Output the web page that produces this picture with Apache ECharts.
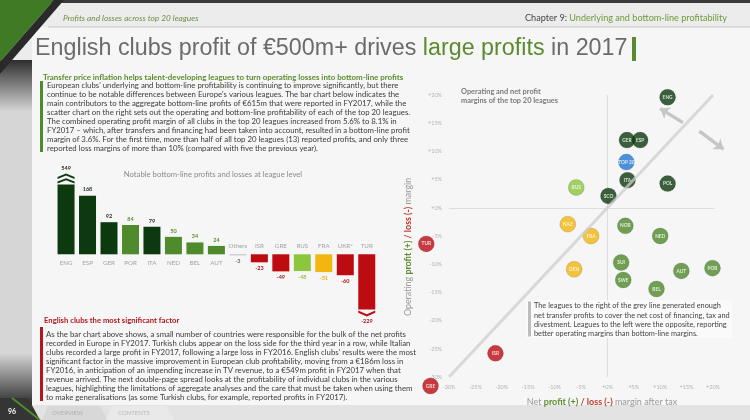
<!DOCTYPE html>
<html><head><meta charset="utf-8">
<script src="https://cdn.jsdelivr.net/npm/echarts@6/dist/echarts.min.js"></script>
<style>html,body{margin:0;padding:0;background:#eeeeee}#c{width:750px;height:420px}</style>
</head><body><div id="c"></div>
<script>
// ---------- DATA ----------
const barCategories = ['ENG','ESP','GER','POR','ITA','NED','BEL','AUT','Others','ISR','GRE','RUS','FRA','UKR*','TUR'];
const barValues = [549,168,92,84,79,50,34,24,-3,-23,-49,-48,-51,-60,-229];
const barGroups = ['dark','dark','dark','mid','dark','mid','mid','mid','other','red','red','light','yellow','red','red'];
const barCap = [200, -158]; // broken-axis display limits (bars beyond are drawn truncated with chevrons)

const leagueCodes = ['ENG','GER','ESP','TOP 20','ITA','POL','RUS','SCO','KAZ','NOR','FRA','NED','TUR','SUI','DEN','AUT','POR','SWE','BEL','ISR','GRE'];
const netMargin = [11.4,3.7,6.2,3.6,3.8,11.4,-5.9,0.2,-7.5,3.4,-3.1,10.0,-34.3,2.6,-6.3,14.0,19.9,3.0,9.3,-21.2,-33.5];
const opMargin  = [19.6,12.0,12.0,8.1,4.9,4.3,3.6,2.1,-2.9,-3.2,-5.0,-5.0,-6.4,-9.7,-10.9,-11.2,-10.7,-12.8,-14.4,-25.8,-31.6];
const leagueGroups = ['dark','dark','dark','blue','dark','dark','light','dark','yellow','mid','yellow','mid','red','mid','yellow','mid','mid','mid','mid','red','red'];
const marginTicks = [-30,-25,-20,-15,-10,-5,0,5,10,15,20];
const arrowLines = [[[14.3,15.1],[10.0,17.6]],[[17.4,13.6],[22.0,10.4]]];

const titleParts = ['English clubs profit of €500m+ drives ','large profits',' in 2017'];
const headerLeft = 'Profits and losses across top 20 leagues';
const headerRight = ['Chapter 9: ','Underlying and bottom-line profitability'];
const sub1 = 'Transfer price inflation helps talent-developing leagues to turn operating losses into bottom-line profits';
const para1 = [
 "European clubs' underlying and bottom-line profitability is continuing to improve significantly, but there",
 "continue to be notable differences between Europe's various leagues. The bar chart below indicates the",
 "main contributors to the aggregate bottom-line profits of €615m that were reported in FY2017, while the",
 "scatter chart on the right sets out the operating and bottom-line profitability of each of the top 20 leagues.",
 "The combined operating profit margin of all clubs in the top 20 leagues increased from 5.6% to 8.1% in",
 "FY2017 – which, after transfers and financing had been taken into account, resulted in a bottom-line profit",
 "margin of 3.6%. For the first time, more than half of all top 20 leagues (13) reported profits, and only three",
 "reported loss margins of more than 10% (compared with five the previous year)."];
const sub2 = 'English clubs the most significant factor';
const para2 = [
 "As the bar chart above shows, a small number of countries were responsible for the bulk of the net profits",
 "recorded in Europe in FY2017. Turkish clubs appear on the loss side for the third year in a row, while Italian",
 "clubs recorded a large profit in FY2017, following a large loss in FY2016. English clubs' results were the most",
 "significant factor in the massive improvement in European club profitability, moving from a €186m loss in",
 "FY2016, in anticipation of an impending increase in TV revenue, to a €549m profit in FY2017 when that",
 "revenue arrived. The next double-page spread looks at the profitability of individual clubs in the various",
 "leagues, highlighting the limitations of aggregate analyses and the care that must be taken when using them",
 "to make generalisations (as some Turkish clubs, for example, reported profits in FY2017)."];
const barTitle = 'Notable bottom-line profits and losses at league level';
const scatterTitle = ['Operating and net profit','margins of the top 20 leagues'];
const noteLines = [
 'The leagues to the right of the grey line generated enough',
 'net transfer profits to cover the net cost of financing, tax and',
 'divestment. Leagues to the left were the opposite, reporting',
 'better operating margins than bottom-line margins.'];

// ---------- STYLE ----------
const C = {dark:'#0c3a0e', mid:'#4f8a2c', light:'#8cc63f', yellow:'#f3b60f', red:'#bd0b12', blue:'#1f79d3', other:'#b7c4ce'};
const LBL = {dark:'#1e2a1e', mid:'#5b8f33', light:'#8cc63f', yellow:'#e9b200', red:'#b0141a', blue:'#1f79d3', other:'#666'};
const GREEN = '#5b8b2e', REDT = '#b5161c', F = 'Lato';

const barDisplay = barValues.map(v => Math.max(Math.min(v, barCap[0]), barCap[1]));
const cappedIdx = barValues.map((v,i)=> (v>barCap[0]||v<barCap[1]) ? i : -1).filter(i=>i>=0);

const chevUp = 'path://M0,5 L10,0 L20,5 L20,8 L10,3 L0,8 Z M0,12 L10,7 L20,12 L20,15 L10,10 L0,15 Z';
const chevDown = 'path://M0,0 L10,5 L20,0 L20,3 L10,8 L0,3 Z';

function txt(x, y, text, font, fill, align, extra) {
  return Object.assign({type:'text', x:x, y:y, silent:true, z:10,
    style:{text:text, font:font, fill:fill, align:align||'left', textAlign:align||'left', verticalAlign:'middle', textVerticalAlign:'middle'}}, extra||{});
}
const g = [];
// page decoration
g.push({type:'rect', shape:{x:0,y:0,width:750,height:420}, style:{fill:'#ececec'}, z:0});
g.push({type:'rect', shape:{x:32,y:27,width:718,height:378}, style:{fill:'#f6f6f6'}, z:0});
g.push({type:'rect', shape:{x:0,y:60,width:32,height:345}, style:{fill:new echarts.graphic.LinearGradient(0,0,0,1,[{offset:0,color:'#2e2e2e'},{offset:0.15,color:'#d6d6d6'},{offset:0.85,color:'#d6d6d6'},{offset:1,color:'#2e2e2e'}])}, z:0});
g.push({type:'rect', shape:{x:0,y:0,width:750,height:3}, style:{fill:'#3a3a3a'}, z:1});
g.push({type:'polygon', shape:{points:[[0,0],[54,0],[0,62]]}, style:{fill:'#3f7a24'}, z:2});
g.push({type:'polygon', shape:{points:[[54,0],[64,0],[0,74],[0,62]]}, style:{fill:'#2a2a2a'}, z:2});
g.push({type:'line', shape:{x1:48,y1:27,x2:750,y2:27}, style:{stroke:'#c4c4c4', lineWidth:1}, z:2});
// bottom strip
g.push({type:'rect', shape:{x:0,y:405,width:750,height:15}, style:{fill:'#e3e3e3'}, z:1});
g.push({type:'polygon', shape:{points:[[0,398],[28,398],[40,420],[0,420]]}, style:{fill:'#353535'}, z:2});
g.push({type:'line', shape:{x1:12,y1:398,x2:40,y2:420}, style:{stroke:'#4f8a2c', lineWidth:2}, z:3});
g.push({type:'polygon', shape:{points:[[42,420],[48,406],[100,406],[108,420]]}, style:{fill:'#d8d8d8'}, z:2});
g.push({type:'polygon', shape:{points:[[106,420],[112,406],[166,406],[174,420]]}, style:{fill:'#e9e9e9'}, z:2});
g.push(txt(8, 412, '96', 'bold 7px '+F, '#ffffff'));
g.push(txt(52, 413, 'OVERVIEW', '6px '+F, '#b0b0b0'));
g.push(txt(118, 413, 'CONTENTS', '6px '+F, '#b8b8b8'));
// header
g.push(txt(63, 18, headerLeft, 'italic 8.3px '+F, '#6f8f48'));
g.push({type:'text', x:727, y:18, z:10, style:{text:'{a|'+headerRight[0]+'}{b|'+headerRight[1]+'}', align:'right', textAlign:'right', verticalAlign:'middle', textVerticalAlign:'middle',
  rich:{a:{fill:'#444', fontSize:9.1, fontFamily:F}, b:{fill:'#6e9a3c', fontSize:9.1, fontFamily:F}}}});
// title
g.push({type:'text', x:35, y:49, z:10, style:{text:'{a|'+titleParts[0]+'}{b|'+titleParts[1]+'}{a|'+titleParts[2]+'}', verticalAlign:'middle', textVerticalAlign:'middle',
  rich:{a:{fill:'#6b6b6b', fontSize:23.3, fontFamily:'Liberation Sans'}, b:{fill:'#5b8b2e', fontSize:23.3, fontFamily:'Liberation Sans'}}}});
g.push({type:'rect', shape:{x:632,y:37,width:4,height:24}, style:{fill:'#5b8b2e'}, z:10});
// paragraph 1
g.push(txt(43, 77, sub1, 'bold 7.9px '+F, GREEN));
g.push({type:'rect', shape:{x:40,y:81,width:3,height:71}, style:{fill:'#4f8a2c'}, z:10});
para1.forEach((l,i)=> g.push(txt(47, 85.5 + i*9.0, l, '7.8px '+F, '#3c3c3c')));
// paragraph 2
g.push(txt(44, 321, sub2, 'bold 7.7px '+F, REDT));
g.push({type:'rect', shape:{x:40,y:327,width:3,height:74}, style:{fill:'#b5161c'}, z:10});
para2.forEach((l,i)=> g.push(txt(46, 334 + i*9.0, l, '7.8px '+F, '#3c3c3c')));
// bar chart title
g.push(txt(213, 175, barTitle, '7.7px '+F, '#8a8a8a', 'center'));
// scatter texts
g.push(txt(461, 91.5, scatterTitle[0], 'bold 7.4px '+F, '#7a7a7a'));
g.push(txt(461, 100.5, scatterTitle[1], 'bold 7.4px '+F, '#7a7a7a'));
g.push({type:'text', x:602, y:402, z:10, style:{text:'{n|Net }{g|profit (+)}{r| / loss (-)}{n| margin after tax}', align:'center', textAlign:'center', verticalAlign:'middle', textVerticalAlign:'middle',
  rich:{n:{fill:'#999', fontSize:9, fontFamily:F}, g:{fill:GREEN, fontSize:9, fontFamily:F, fontWeight:'bold'}, r:{fill:'#c0392b', fontSize:9, fontFamily:F, fontWeight:'bold'}}}});
g.push({type:'text', x:408, y:247, rotation:Math.PI/2, z:10, style:{text:'{n|Operating }{g|profit (+)}{r| / loss (-)}{n| margin}', align:'center', textAlign:'center', verticalAlign:'middle', textVerticalAlign:'middle',
  rich:{n:{fill:'#999', fontSize:8.9, fontFamily:F}, g:{fill:GREEN, fontSize:8.9, fontFamily:F, fontWeight:'bold'}, r:{fill:'#c0392b', fontSize:8.9, fontFamily:F, fontWeight:'bold'}}}});
g.push({type:'rect', shape:{x:526,y:300,width:206,height:38}, style:{fill:'rgba(250,250,250,0.85)'}, z:9});
g.push({type:'rect', shape:{x:528,y:301.5,width:3,height:35}, style:{fill:'#bdbdbd'}, z:10});
noteLines.forEach((l,i)=> g.push(txt(534, 306 + i*9.2, l, '7.35px '+F, '#444')));

const lastTick = marginTicks[marginTicks.length-1];
const pctFmt = v => v > lastTick ? '' : (v > 0 ? '+' + v : (v === 0 ? '+0' : '' + v)) + '%';

const option = {
  animation: false,
  graphic: {elements: g},
  grid: [
    {left: 55.3, right: 372.5, top: 182.8, bottom: 109.9},
    {left: 449, right: 10.6, top: 95, bottom: 43}
  ],
  xAxis: [
    {gridIndex:0, type:'category', data:barCategories, axisLine:{show:false}, axisTick:{show:false}, axisLabel:{show:false}},
    {gridIndex:1, type:'value', min:marginTicks[0], max:lastTick + 5, interval:5,
     axisLine:{show:false}, axisTick:{show:false}, splitLine:{show:false},
     axisLabel:{formatter:pctFmt, color:'#b3b3b3', fontSize:5.5, fontFamily:F, margin:7, showMaxLabel:false}}
  ],
  yAxis: [
    {gridIndex:0, type:'value', min:barCap[1]-2, max:barCap[0]+5, show:false, splitLine:{show:false}},
    {gridIndex:1, type:'value', min:marginTicks[0], max:lastTick, interval:5,
     axisLine:{show:false}, axisTick:{show:false}, splitLine:{show:false},
     axisLabel:{formatter:pctFmt, color:'#b3b3b3', fontSize:5.5, fontFamily:F, margin:7}}
  ],
  series: [
    {type:'bar', xAxisIndex:0, yAxisIndex:0, barWidth:17, z:3,
     data: barDisplay.map((v,i)=>({value:v, itemStyle:{color:C[barGroups[i]]},
       label:{position: barValues[i] >= 0 ? 'top' : 'bottom', distance: cappedIdx.includes(i) ? (barValues[i]>0?13:9) : 3, color: LBL[barGroups[i]]}})),
     label:{show:true, fontSize:5.5, fontWeight:'bold', fontFamily:F, formatter:p=>String(barValues[p.dataIndex])},
     markPoint:{silent:true, label:{show:false},
       data: cappedIdx.map(i=>({coord:[i, barDisplay[i]], symbol: barValues[i]>0?chevUp:chevDown,
         symbolSize: barValues[i]>0?[17,10]:[17,6], symbolOffset:[0, barValues[i]>0?-6:4], itemStyle:{color:C[barGroups[i]]}}))}
    },
    {type:'scatter', xAxisIndex:0, yAxisIndex:0, symbolSize:0, silent:true, z:4,
     data: barCategories.map((c,i)=>({value:[i,0], label:{position: barValues[i]>=0?'bottom':'top', distance: barValues[i]>=0?6:5}})),
     label:{show:true, color:'#8c8c8c', fontSize:6.2, fontFamily:F, formatter:p=>barCategories[p.dataIndex]}
    },
    {type:'scatter', xAxisIndex:1, yAxisIndex:1, data:[], silent:true, z:1,
     markLine:{silent:true, symbol:['none','none'], z:1, label:{show:false}, lineStyle:{color:'#dedede', width:1, type:'solid'},
       data:[[{coord:[0,marginTicks[0]]},{coord:[0,lastTick]}],[{coord:[marginTicks[0],0]},{coord:[lastTick+0.3,0]}]]}
    },
    {type:'scatter', xAxisIndex:1, yAxisIndex:1, symbolSize:16, clip:false, z:3,
     data: leagueCodes.map((n,i)=>({name:n, value:[netMargin[i], opMargin[i]], itemStyle:{color:C[leagueGroups[i]], borderColor:'rgba(0,0,0,0.18)', borderWidth:0.8}})),
     label:{show:true, position:'inside', color:'#fff', fontSize:4.8, fontWeight:'bold', fontFamily:F, formatter:p=>p.name},
     markLine:{silent:true, symbol:['none','none'], label:{show:false}, z:6, lineStyle:{type:'solid'},
       data:[[{coord:[marginTicks[0],marginTicks[0]], lineStyle:{color:'rgba(205,205,205,0.75)', width:3, type:'solid'}},{coord:[lastTick,lastTick]}]].concat(
         arrowLines.map(a=>[{coord:a[0], symbol:'none', lineStyle:{color:'#c6c6c6', width:3.5, type:'solid'}},{coord:a[1], symbol:'arrow', symbolSize:[10,9]}]))}
    }
  ]
};
const chart = echarts.init(document.getElementById('c'), null, {renderer:'canvas', width:750, height:420});
chart.setOption(option);
</script></body></html>
